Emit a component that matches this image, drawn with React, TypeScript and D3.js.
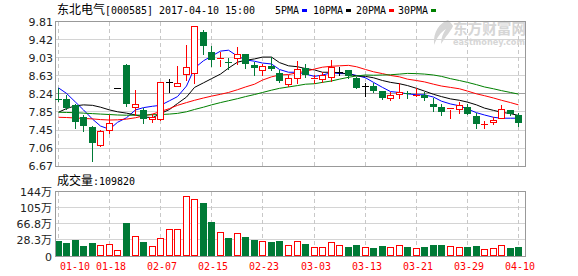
import React from "react";
import * as d3 from "d3";

const dates = [
  "01-10","01-11","01-12","01-13","01-16","01-17","01-18","01-24","01-25","01-26",
  "02-03","02-06","02-07","02-08","02-09","02-10","02-13","02-14","02-15","02-16",
  "02-17","02-20","02-21","02-22","02-23","02-24","02-27","02-28","03-01","03-02",
  "03-03","03-06","03-07","03-08","03-09","03-10","03-13","03-14","03-15","03-16",
  "03-17","03-20","03-21","03-22","03-23","03-24","03-27","03-28","03-29","03-30",
  "03-31","04-05","04-06","04-07","04-10"
];
const opens = [
  8.12,8.13,8.00,7.74,7.52,7.13,7.45,8.37,8.87,7.96,
  7.89,7.69,7.69,8.50,8.42,8.67,8.69,9.59,9.14,8.99,
  8.93,9.01,9.10,8.87,8.76,8.85,8.69,8.45,8.58,8.81,
  8.56,8.56,8.61,8.72,8.76,8.59,8.41,8.41,8.30,8.16,
  8.24,8.25,8.21,8.22,8.03,7.95,7.92,7.91,7.96,7.76,
  7.58,7.62,7.71,7.89,7.78
];
const highs = [
  8.36,8.22,8.03,7.78,7.55,7.45,7.78,8.37,8.88,8.32,
  7.93,7.80,8.50,8.56,8.85,9.30,9.71,9.63,9.28,9.14,
  9.01,9.25,9.10,8.94,8.90,9.05,8.76,8.65,8.96,8.88,
  8.65,8.72,8.98,8.83,8.76,8.61,8.47,8.47,8.30,8.27,
  8.47,8.30,8.36,8.27,8.14,8.03,7.94,8.06,8.01,7.82,
  7.64,7.74,8.00,7.89,7.82
];
const lows = [
  8.08,7.91,7.50,7.43,6.77,7.11,7.38,8.37,7.98,7.78,
  7.60,7.62,7.68,8.27,8.40,8.54,8.47,9.11,8.85,8.85,
  8.78,8.90,8.81,8.65,8.65,8.76,8.50,8.41,8.47,8.61,
  8.48,8.50,8.53,8.65,8.58,8.37,8.20,8.27,8.12,8.11,
  8.16,8.16,8.20,8.11,7.87,7.79,7.71,7.82,7.81,7.49,
  7.50,7.58,7.71,7.78,7.55
];
const closes = [
  8.10,7.94,7.62,7.53,7.18,7.43,7.60,8.37,8.01,8.03,
  7.69,7.74,8.49,8.50,8.47,8.83,9.71,9.29,8.98,9.03,
  8.92,9.10,8.88,8.81,8.85,8.79,8.53,8.59,8.78,8.64,
  8.58,8.65,8.83,8.72,8.63,8.37,8.41,8.31,8.16,8.22,
  8.27,8.24,8.22,8.14,7.96,7.85,7.93,8.00,7.81,7.58,
  7.59,7.67,7.90,7.81,7.60
];
// volume in 万
const volumes = [
  26.4,21.6,28.0,13.6,20.8,15.2,17.6,3.2,68.8,36.8,
  24.0,12.8,32.0,53.6,53.6,132.8,125.6,116.8,71.2,47.2,
  32.8,44.0,35.2,28.0,25.6,24.0,25.6,15.2,25.6,18.4,
  10.4,10.4,22.4,15.2,11.2,16.0,10.4,8.8,13.6,10.4,
  15.2,11.2,8.0,11.2,16.0,16.0,12.8,10.4,11.2,13.6,
  5.6,8.0,15.2,8.8,10.98
];
const ma5 = [
  8.37,8.25,8.06,7.89,7.69,7.54,7.47,7.62,7.72,7.89,
  7.94,7.97,7.99,8.09,8.18,8.41,8.80,8.96,9.06,9.17,
  9.19,9.06,8.98,8.95,8.91,8.89,8.77,8.71,8.71,8.67,
  8.62,8.65,8.70,8.68,8.68,8.64,8.59,8.49,8.38,8.29,
  8.27,8.24,8.22,8.22,8.17,8.08,8.02,7.98,7.91,7.83,
  7.78,7.73,7.71,7.71,7.71
];
const ma10 = [
  7.84,7.92,7.98,8.00,7.99,7.95,7.89,7.85,7.82,7.78,
  7.74,7.72,7.81,7.90,8.03,8.17,8.38,8.48,8.57,8.67,
  8.80,8.93,8.97,9.00,9.04,9.04,8.92,8.85,8.83,8.79,
  8.76,8.71,8.71,8.70,8.67,8.63,8.62,8.59,8.53,8.49,
  8.46,8.42,8.36,8.30,8.23,8.18,8.13,8.10,8.06,8.00,
  7.93,7.88,7.84,7.81,7.77
];
const ma20 = [
  7.73,7.725,7.715,7.705,7.695,7.68,7.67,7.675,7.69,7.72,
  7.76,7.80,7.855,7.92,7.99,8.05,8.10,8.15,8.19,8.23,
  8.27,8.33,8.39,8.45,8.54,8.61,8.65,8.66,8.70,8.73,
  8.78,8.82,8.84,8.85,8.86,8.83,8.77,8.72,8.68,8.64,
  8.61,8.56,8.53,8.50,8.45,8.41,8.38,8.35,8.30,8.24,
  8.20,8.15,8.10,8.05,8.00
];
const ma30 = [
  7.84,7.835,7.83,7.82,7.81,7.80,7.79,7.78,7.775,7.775,
  7.78,7.785,7.79,7.80,7.815,7.85,7.90,7.95,8.00,8.05,
  8.09,8.135,8.18,8.225,8.27,8.32,8.36,8.39,8.42,8.45,
  8.46,8.49,8.52,8.56,8.60,8.63,8.65,8.645,8.65,8.655,
  8.67,8.685,8.68,8.67,8.65,8.62,8.57,8.53,8.49,8.44,
  8.39,8.35,8.31,8.27,8.235
];
const priceTicks = [9.81, 9.42, 9.03, 8.63, 8.24, 7.85, 7.45, 7.06, 6.67];
const volTicks = [144, 105.4, 66.8, 28.3];
const volTickLabels = ["144万", "105万", "66.8万", "28.3万"];
const xTickDates = ["01-10","01-18","02-07","02-15","02-23","03-03","03-13","03-21","03-29","04-10"];
const maNames = ["5PMA", "10PMA", "20PMA", "30PMA"];
const maColors = ["#0000ff", "#000000", "#ff0000", "#008000"];

const W = 578, H = 276;
const LEFT = 55.5, RIGHT = 525.5;
const PTOP = 21.7, PBOT = 166;
const VTOP = 191.7, VBOT = 256;
const RED = "#ff0000";
const GREEN = "#007a36";
const MONO = "'DejaVu Sans Mono', 'Liberation Mono', monospace";
const CJK = "'Noto Sans CJK SC', sans-serif";
const SANS = "'DejaVu Sans', sans-serif";

export default function App() {
  const n = dates.length;
  const xb = d3.scaleBand<string>().domain(dates).range([54, 523]);
  const cx = (i: number) => Math.floor(xb(dates[i])! + xb.bandwidth() / 2);
  const yP = d3.scaleLinear().domain([6.67, 9.81]).range([PBOT, PTOP]);
  const yV = d3.scaleLinear().domain([-10.4, 144]).range([VBOT, VTOP]);
  const px = (v: number) => Math.floor(v) + 0.5;

  const tickIdx = xTickDates.map((d) => dates.indexOf(d));
  const mas = [ma5, ma10, ma20, ma30];

  const lineGen = d3
    .line<number>()
    .x((_, i) => cx(i) + 0.5)
    .y((v) => yP(v));

  const candles = d3.range(n).map((i) => {
    const o = opens[i], c = closes[i], h = highs[i], l = lows[i];
    const x0 = cx(i);
    const top = Math.round(yP(Math.max(o, c)));
    const bot = Math.round(yP(Math.min(o, c)));
    const yh = Math.round(yP(h));
    const yl = Math.round(yP(l));
    if (o === c) {
      return (
        <g key={i} stroke="#000" strokeWidth={1}>
          {yl > yh && <line x1={x0 + 0.5} x2={x0 + 0.5} y1={yh} y2={yl + 1} />}
          <line x1={x0 - 3} x2={x0 + 4} y1={top + 0.5} y2={top + 0.5} />
        </g>
      );
    }
    if (c > o) {
      const hgt = Math.max(1, bot - top);
      return (
        <g key={i} stroke={RED} strokeWidth={1} fill="none">
          {yh < top && <line x1={x0 + 0.5} x2={x0 + 0.5} y1={yh} y2={top} />}
          {yl > bot && <line x1={x0 + 0.5} x2={x0 + 0.5} y1={bot + 1} y2={yl + 1} />}
          {hgt <= 1 ? (
            <line x1={x0 - 3} x2={x0 + 4} y1={top + 0.5} y2={top + 0.5} />
          ) : (
            <rect x={x0 - 2.5} y={top + 0.5} width={6} height={hgt} fill="#fff" />
          )}
        </g>
      );
    }
    return (
      <g key={i}>
        <line x1={x0 + 0.5} x2={x0 + 0.5} y1={yh} y2={yl + 1} stroke={GREEN} strokeWidth={1} />
        <rect x={x0 - 3} y={top} width={7} height={Math.max(1, bot - top)} fill={GREEN} />
      </g>
    );
  });

  const volBars = d3.range(n).map((i) => {
    const x0 = cx(i);
    const y = Math.round(yV(volumes[i]));
    const up = closes[i] >= opens[i];
    return up ? (
      <rect key={i} x={x0 - 2.5} y={y + 0.5} width={6} height={Math.max(0, VBOT - y - 1)}
        fill="#fff" stroke={RED} strokeWidth={1} />
    ) : (
      <rect key={i} x={x0 - 3} y={y} width={7} height={VBOT - y} fill={GREEN} />
    );
  });

  // legend layout
  const legendX = [275, 313, 356, 398];
  const legendW = [24, 30, 30, 30];

  return (
    <svg width={W} height={H} style={{ position: "absolute", left: 0, top: 0, background: "#fff" }}
      shapeRendering="crispEdges">
      <rect x={0} y={0} width={W} height={H} fill="#fff" />

      {/* header */}
      <text x={57} y={13.5} fontFamily={CJK} fontSize={12} fill="#000">东北电气</text>
      <text x={105} y={13.5} fontFamily={MONO} fontSize={11} fill="#000"
        textLength={150} lengthAdjust="spacingAndGlyphs">[000585] 2017-04-10 15:00</text>
      {maNames.map((m, k) => (
        <g key={m}>
          <text x={legendX[k]} y={13.5} fontFamily={MONO} fontSize={11} fill="#000"
            textLength={legendW[k]} lengthAdjust="spacingAndGlyphs">{m}</text>
          <rect x={legendX[k] + legendW[k] + 3} y={9} width={5} height={3} fill={maColors[k]} />
        </g>
      ))}

      {/* price grid */}
      {priceTicks.slice(1, -1).map((t) => (
        <line key={t} x1={LEFT} x2={RIGHT} y1={px(yP(t))} y2={px(yP(t))}
          stroke={t === 8.24 ? "#a0a0a0" : "#d4d4d4"} strokeWidth={1} />
      ))}
      {tickIdx.map((i) => (
        <line key={"pv" + i} x1={cx(i) + 0.5} x2={cx(i) + 0.5} y1={PTOP} y2={PBOT}
          stroke="#c8c8c8" strokeDasharray="4,3" />
      ))}

      {/* watermark */}
      <g fill="#d6d6d6" shapeRendering="auto">
        <path d="M448 20 C440 23 433 31 434 45 C437 37 441 32 446 29 C443 33 441 38 441 44 C446 36 451 31 453 26 C452 24 450 22 448 20 Z" />
        <text x={453} y={34} fontFamily={CJK} fontSize={15} fontWeight={700}
          textLength={73} lengthAdjust="spacingAndGlyphs">东方财富网</text>
        <text x={453} y={45} fontFamily={SANS} fontSize={9} fontWeight={700}
          textLength={72} lengthAdjust="spacingAndGlyphs">eastmoney.com</text>
      </g>

      {/* frame */}
      <rect x={LEFT} y={px(PTOP)} width={RIGHT - LEFT} height={px(PBOT) - px(PTOP)}
        fill="none" stroke="#999" strokeWidth={1} />

      {/* y labels */}
      {priceTicks.map((t) => (
        <text key={"yl" + t} x={53} y={yP(t) + 4} textAnchor="end" fontFamily={SANS}
          fontSize={11} fill="#222">{t.toFixed(2)}</text>
      ))}

      {/* MA lines */}
      <g shapeRendering="auto" fill="none" strokeWidth={1}>
        {mas.map((m, k) => (
          <path key={k} d={lineGen(m) || ""} stroke={maColors[k]} />
        ))}
      </g>

      {/* candles */}
      {candles}

      {/* volume section */}
      <text x={57} y={184.5} fontFamily={CJK} fontSize={12} fill="#000">成交量</text>
      <text x={93} y={184.5} fontFamily={MONO} fontSize={11} fill="#000"
        textLength={42} lengthAdjust="spacingAndGlyphs">:109820</text>

      {volTicks.slice(1).map((t) => (
        <line key={"vg" + t} x1={LEFT} x2={RIGHT} y1={px(yV(t))} y2={px(yV(t))}
          stroke="#d4d4d4" strokeWidth={1} />
      ))}
      {tickIdx.map((i) => (
        <line key={"vv" + i} x1={cx(i) + 0.5} x2={cx(i) + 0.5} y1={VTOP} y2={VBOT}
          stroke="#c8c8c8" strokeDasharray="4,3" />
      ))}
      {volBars}
      <rect x={LEFT} y={px(VTOP)} width={RIGHT - LEFT} height={px(VBOT) - px(VTOP)}
        fill="none" stroke="#999" strokeWidth={1} />

      {volTicks.map((t, k) => (
        <text key={"vl" + t} x={52} y={yV(t) + 4.5} textAnchor="end" fill="#222">
          <tspan fontFamily={SANS} fontSize={11}>{volTickLabels[k].replace("万", "")}</tspan>
          <tspan fontFamily={CJK} fontSize={11}>万</tspan>
        </text>
      ))}
      <text x={52} y={VBOT + 4.5} textAnchor="end" fontFamily={SANS} fontSize={11} fill="#222">0</text>

      {/* x labels */}
      {tickIdx.map((i, k) => (
        <text key={"xl" + i} x={Math.max(60, cx(i) - 13)} y={270} fontFamily={MONO} fontSize={11}
          fill={RED} textLength={30} lengthAdjust="spacingAndGlyphs">{xTickDates[k]}</text>
      ))}
    </svg>
  );
}
